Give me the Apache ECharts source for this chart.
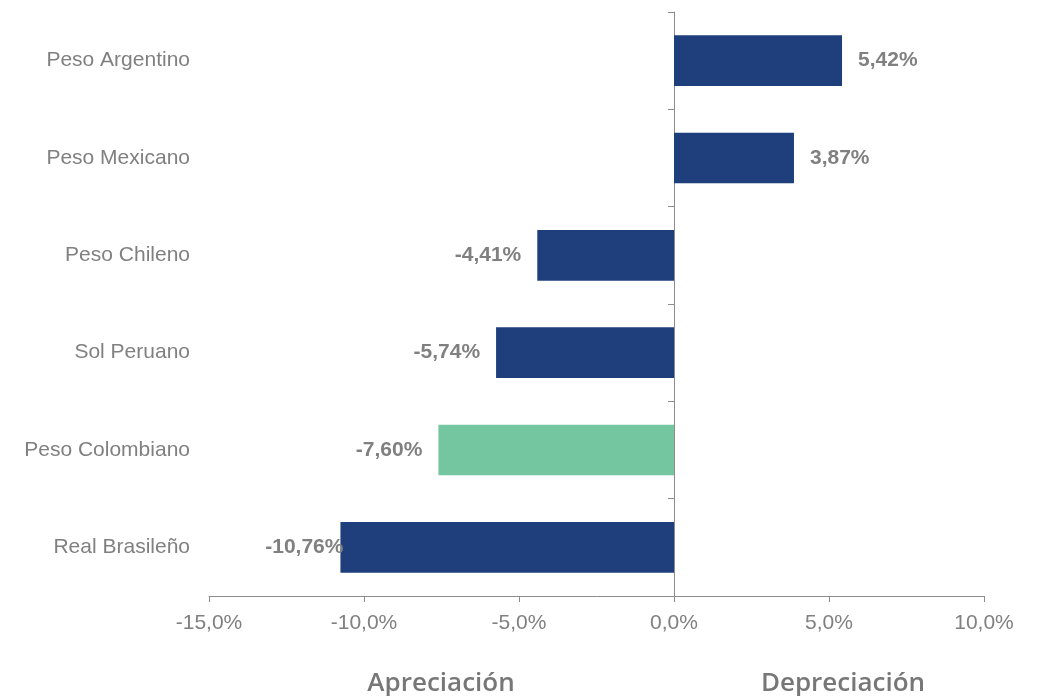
<!DOCTYPE html>
<html><head><meta charset="utf-8">
<script src="https://cdn.jsdelivr.net/npm/echarts@6/dist/echarts.min.js"></script>
<style>html,body{margin:0;padding:0;background:#fff}#c{width:1040px;height:696px}</style>
</head><body><div id="c"></div>
<script>
const categories = ['Real Brasileño','Peso Colombiano','Sol Peruano','Peso Chileno','Peso Mexicano','Peso Argentino'];
const values = [-10.76, -7.60, -5.74, -4.41, 3.87, 5.42];
const highlight = 'Peso Colombiano';
const xTicks = {min: -15, max: 10, interval: 5};
const footer = ['Apreciación', 'Depreciación'];

const BLUE = '#1F3F7C', GREEN = '#74C6A1', GRAY = '#808080';
const FONT = 'Liberation Sans, Arial';
const fmt = v => v.toFixed(2).replace('.', ',') + '%';

const data = values.map((v, i) => {
  const o = {value: v, itemStyle: {color: categories[i] === highlight ? GREEN : BLUE}};
  o.label = {position: v >= 0 ? 'right' : 'left', distance: 16};
  if (v < -10) o.label.distance = -3;
  return o;
});

const chart = echarts.init(document.getElementById('c'));
chart.setOption({
  animation: false,
  grid: {left: 209, right: 56, top: 12, bottom: 100, containLabel: false},
  xAxis: {
    type: 'value', min: xTicks.min, max: xTicks.max, interval: xTicks.interval,
    splitLine: {show: false},
    axisLine: {show: true, onZero: false, lineStyle: {color: '#8c8c8c', width: 1}},
    axisTick: {show: true, length: 6, lineStyle: {color: '#8c8c8c'}},
    axisLabel: {color: GRAY, fontSize: 21, fontFamily: FONT, margin: 17,
      formatter: v => v.toFixed(1).replace('.', ',') + '%'}
  },
  yAxis: [{
    type: 'category', data: categories, position: 'left',
    axisLine: {show: false, onZero: false}, axisTick: {show: false},
    axisLabel: {color: GRAY, fontSize: 21, fontFamily: FONT, margin: 19}
  }, {
    type: 'category', data: categories, position: 'right',
    axisLine: {show: true, onZero: true, lineStyle: {color: '#8c8c8c', width: 1}},
    axisTick: {show: true, inside: true, length: 6, lineStyle: {color: '#8c8c8c'}},
    axisLabel: {show: false}
  }],
  series: [{
    type: 'bar', data: data, yAxisIndex: 0, barCategoryGap: '48%',
    label: {show: true, color: GRAY, fontSize: 21, fontWeight: 'bold', fontFamily: FONT,
      formatter: p => fmt(p.value)}
  }],
  graphic: [
    {type: 'text', x: 441, y: 684, style: {text: footer[0], fill: '#777', fontSize: 26, fontWeight: 600, fontFamily: 'Open Sans', align: 'center', verticalAlign: 'middle'}},
    {type: 'text', x: 843, y: 684, style: {text: footer[1], fill: '#777', fontSize: 26, fontWeight: 600, fontFamily: 'Open Sans', align: 'center', verticalAlign: 'middle'}}
  ]
});
</script></body></html>
